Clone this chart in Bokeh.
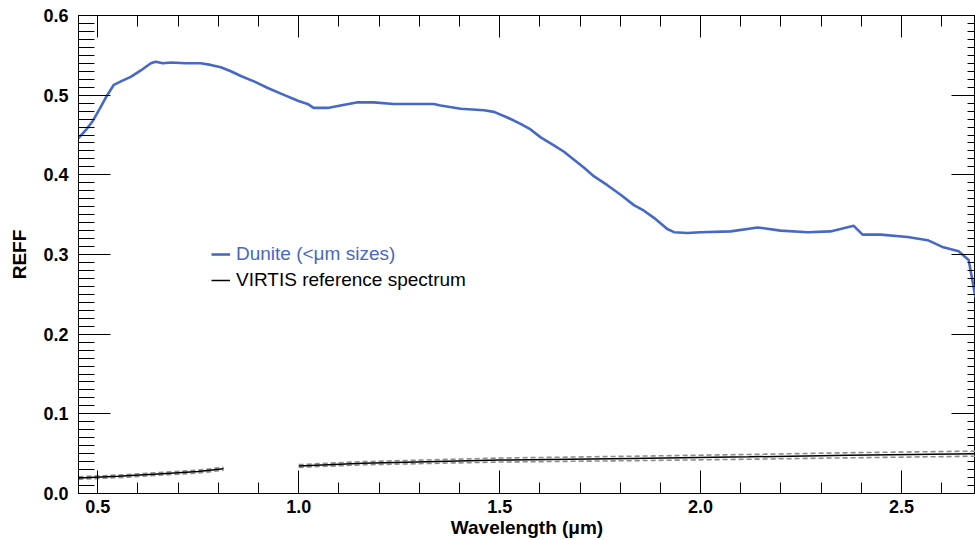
import numpy as np
from bokeh.plotting import figure
from bokeh.models import Range1d, LinearAxis, FixedTicker, Legend, LegendItem
from bokeh.embed import file_html
from bokeh.resources import INLINE

# ---------------- data ----------------
dunite_wl = [0.452, 0.470, 0.488, 0.505, 0.520, 0.540, 0.560, 0.582, 0.607, 0.632, 0.644,
             0.662, 0.682, 0.719, 0.756, 0.781, 0.806, 0.831, 0.856, 0.890, 0.923,
             0.960, 0.998, 1.022, 1.037, 1.072, 1.104, 1.147, 1.187, 1.236, 1.336,
             1.353, 1.403, 1.461, 1.486, 1.519, 1.552, 1.577, 1.602, 1.635, 1.660,
             1.685, 1.710, 1.735, 1.768, 1.801, 1.834, 1.859, 1.884, 1.917, 1.934,
             1.967, 2.000, 2.075, 2.142, 2.199, 2.266, 2.323, 2.381, 2.403, 2.448,
             2.515, 2.565, 2.604, 2.642, 2.667, 2.684]
dunite_reff = [0.446, 0.456, 0.468, 0.483, 0.497, 0.513, 0.518, 0.523, 0.531, 0.540, 0.542,
               0.540, 0.541, 0.540, 0.540, 0.538, 0.535, 0.530, 0.524, 0.517, 0.509,
               0.501, 0.493, 0.489, 0.484, 0.484, 0.487, 0.491, 0.491, 0.489, 0.489,
               0.487, 0.483, 0.481, 0.479, 0.472, 0.464, 0.457, 0.447, 0.437, 0.429,
               0.419, 0.409, 0.398, 0.387, 0.375, 0.362, 0.355, 0.346, 0.332, 0.328,
               0.327, 0.328, 0.329, 0.334, 0.330, 0.328, 0.329, 0.336, 0.325, 0.325,
               0.322, 0.318, 0.309, 0.304, 0.293, 0.246]

virtis_wl_1 = [0.452, 0.55, 0.65, 0.75, 0.813]
virtis_reff_1 = [0.0195, 0.0215, 0.0245, 0.0275, 0.031]
virtis_hi_1 = [0.0210, 0.0232, 0.0262, 0.0293, 0.0328]
virtis_lo_1 = [0.0180, 0.0198, 0.0228, 0.0257, 0.0292]

virtis_wl_2 = [1.0, 1.16, 1.37, 1.5, 1.83, 2.12, 2.37, 2.684]
virtis_reff_2 = [0.0345, 0.038, 0.0405, 0.042, 0.044, 0.046, 0.048, 0.050]
virtis_hi_2 = [0.0362, 0.0400, 0.0428, 0.0445, 0.0468, 0.0490, 0.0512, 0.0532]
virtis_lo_2 = [0.0328, 0.0360, 0.0382, 0.0395, 0.0412, 0.0430, 0.0448, 0.0468]

x_major = [0.5, 1.0, 1.5, 2.0, 2.5]
x_labels = ["0.5", "1.0", "1.5", "2.0", "2.5"]
y_major = [0.0, 0.1, 0.2, 0.3, 0.4, 0.5, 0.6]
y_labels = ["0.0", "0.1", "0.2", "0.3", "0.4", "0.5", "0.6"]

BLUE = "#4668c8"
FONT = "Liberation Sans"

p = figure(width=975, height=540, output_backend="svg", toolbar_location=None,
           x_range=Range1d(0.452, 2.684), y_range=Range1d(0.0, 0.6),
           min_border_left=78, min_border_right=0, min_border_top=15, min_border_bottom=47,
           x_axis_location=None, y_axis_location=None)
p.grid.visible = False
p.outline_line_color = "black"
p.outline_line_width = 1
p.background_fill_color = "white"
p.border_fill_color = "white"

x_minor = [round(v, 2) for v in np.arange(0.5, 2.71, 0.1)]
y_minor = [round(v, 3) for v in np.arange(0.0, 0.601, 0.01)]
xt = FixedTicker(ticks=x_major, minor_ticks=x_minor)
yt = FixedTicker(ticks=y_major, minor_ticks=y_minor)


def style(ax, major_in, minor_in, labels):
    ax.major_tick_in = major_in
    ax.major_tick_out = 0
    ax.minor_tick_in = minor_in
    ax.minor_tick_out = 0
    ax.axis_line_color = "black"
    ax.major_tick_line_color = "black"
    ax.minor_tick_line_color = "black"
    ax.major_tick_line_width = 1
    ax.minor_tick_line_width = 1
    ax.major_label_text_font = FONT
    ax.major_label_text_font_style = "bold"
    ax.major_label_text_font_size = "18px"
    ax.major_label_text_color = "black"
    ax.axis_label_text_font = FONT
    ax.axis_label_text_font_style = "bold"
    ax.axis_label_text_font_size = "19px"
    ax.axis_label_text_color = "black"


xb = LinearAxis(ticker=xt, axis_label="Wavelength (μm)")
xb.major_label_overrides = {v: l for v, l in zip(x_major, x_labels)}
style(xb, 23, 11, True)
xb.major_label_standoff = 6
xb.axis_label_standoff = 1
p.add_layout(xb, "below")

xa = LinearAxis(ticker=xt)
style(xa, 22, 11, False)
xa.major_label_overrides = {v: "" for v in x_major}
xa.major_label_standoff = 0
p.add_layout(xa, "above")

yl = LinearAxis(ticker=yt, axis_label="REFF")
yl.major_label_overrides = {v: l for v, l in zip(y_major, y_labels)}
style(yl, 32, 16, True)
yl.major_label_standoff = 10
yl.axis_label_standoff = 10
p.add_layout(yl, "left")

yr = LinearAxis(ticker=yt)
style(yr, 24, 8, False)
yr.major_label_overrides = {v: "" for v in y_major}
yr.major_label_standoff = 0
p.add_layout(yr, "right")

# VIRTIS reference with uncertainty (dashed grey)
for wl, hi, lo in [(virtis_wl_1, virtis_hi_1, virtis_lo_1), (virtis_wl_2, virtis_hi_2, virtis_lo_2)]:
    p.line(wl, hi, line_color="#8c8c8c", line_width=1.6, line_dash="5 3")
    p.line(wl, lo, line_color="#8c8c8c", line_width=1.6, line_dash="5 3")
r_v1 = p.line(virtis_wl_1, virtis_reff_1, line_color="black", line_width=1.5)
p.line(virtis_wl_2, virtis_reff_2, line_color="black", line_width=1.5)

r_d = p.line(dunite_wl, dunite_reff, line_color=BLUE, line_width=2.6, line_join="round")


def make_legend(label, rend, color, loc):
    lg = Legend(items=[LegendItem(label=label, renderers=[rend])], location=loc)
    lg.border_line_color = None
    lg.background_fill_alpha = 0
    lg.padding = 0
    lg.margin = 0
    lg.glyph_width = 19
    lg.glyph_height = 20
    lg.label_height = 20
    lg.label_standoff = 6
    lg.label_text_font = FONT
    lg.label_text_font_size = "19px"
    lg.label_text_color = color
    p.add_layout(lg)


make_legend("Dunite (<μm sizes)", r_d, BLUE, (133, 228))
make_legend("VIRTIS reference spectrum", r_v1, "black", (133, 202))

open("out.html", "w").write(file_html(p, INLINE))
